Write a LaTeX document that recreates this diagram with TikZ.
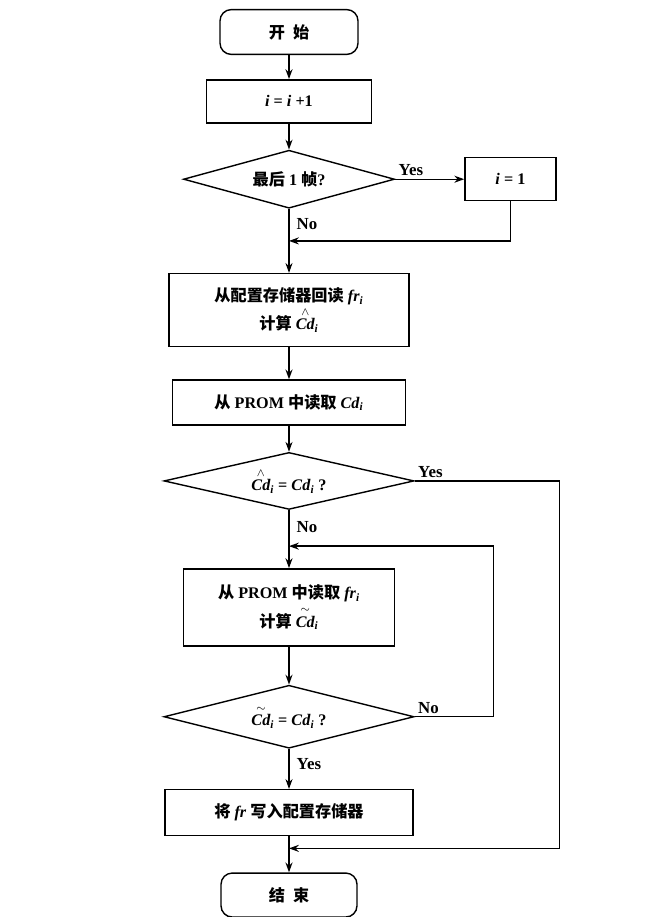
\documentclass[tikz,border=0pt]{standalone}
\usepackage{fontspec}
\usepackage{amsmath}
\setmainfont{Liberation Serif}
\newfontfamily\cjk{Noto Sans CJK SC}
\newcommand{\zh}[1]{{\cjk #1}}
\newcommand{\va}[1]{\textit{#1}}
\newcommand{\sub}[1]{\textsubscript{\textit{#1}}}
\newcommand{\hatCd}{$\overset{\scriptstyle\wedge}{\textit{Cd}}$}
\newcommand{\tilCd}{$\overset{\scriptstyle\sim}{\textit{Cd}}$}
\usetikzlibrary{shapes,arrows,arrows.meta,positioning}

\begin{document}
\begin{tikzpicture}[
    node distance=0.65cm,
    block/.style={rectangle, draw=black, line width=1pt, text centered, align=center, font=\fontsize{11.5}{20}\selectfont\bfseries, inner sep=2pt},
    dec/.style={diamond, draw=black, line width=1pt, aspect=4, inner sep=0pt, text centered, font=\fontsize{11.5}{14}\selectfont\bfseries, minimum width=6.25cm, minimum height=1.425cm},
    term/.style={rectangle, rounded corners=8pt, draw=black, line width=1pt, text centered, minimum width=3.45cm, minimum height=1.12cm, font=\fontsize{11.5}{14}\selectfont\bfseries},
    arrow/.style={->, >={Stealth[length=7pt, width=5pt]}, line width=1pt},
    arrlab/.style={font=\fontsize{12}{14}\selectfont\bfseries, inner sep=2pt},
]
    \useasboundingbox (0,0) rectangle (16.775,-22.925);

    % --- main column ---
    \node[term] (start) at (7.225,-0.8) {\zh{开\hspace{0.5em}始}};
    \node[block, below=0.6cm of start, minimum width=4.125cm, minimum height=1.075cm] (inc) {\va{i} = \va{i} +1};
    \node[dec, below=0.65cm of inc, minimum width=5.275cm, minimum height=1.45cm] (last) {\zh{最后} 1 \zh{帧}?};
    \node[block, right=1.725cm of last, minimum width=2.275cm, minimum height=1.075cm] (reset) {\va{i} = 1};

    \node[block, below=1.6cm of last, minimum width=6cm, minimum height=1.825cm] (rdbk)
        {\zh{从配置存储器回读} \va{fr}\sub{i}\\\zh{计算} \hatCd\sub{i}};
    \node[block, below=0.8cm of rdbk, minimum width=5.825cm, minimum height=1.125cm] (rdcd)
        {\zh{从} PROM \zh{中读取} \va{Cd}\sub{i}};
    \node[dec, below=0.65cm of rdcd] (cmp1) {\hatCd\sub{i} = \va{Cd}\sub{i} ?};

    \node[block, below=1.45cm of cmp1, minimum width=5.275cm, minimum height=1.925cm] (rdfr)
        {\zh{从} PROM \zh{中读取} \va{fr}\sub{i}\\\zh{计算} \tilCd\sub{i}};
    \node[dec, below=0.95cm of rdfr, minimum height=1.575cm] (cmp2) {\tilCd\sub{i} = \va{Cd}\sub{i} ?};

    \node[block, below=1.0cm of cmp2, minimum width=6.2cm, minimum height=1.15cm] (wrt)
        {\zh{将} \va{fr} \zh{写入配置存储器}};
    \node[term, below=0.9cm of wrt, minimum width=3.4cm, minimum height=1.1cm] (stop) {\zh{结\hspace{0.5em}束}};

    % --- join points on the main line ---
    \coordinate[below=0.8cm of last.south] (j1);
    \coordinate[above=0.55cm of rdfr.north] (j2);
    \coordinate[below=0.3cm of wrt.south] (j3);

    % --- Arrows ---
    \draw[arrow] (start) -- (inc);
    \draw[arrow] (inc) -- (last);
    \draw[arrow] (last) -- (reset) node[arrlab, pos=0, above right] {Yes};
    \draw[arrow] (reset.south) |- (j1);
    \draw[arrow] (last) -- (rdbk) node[arrlab, pos=0.23, right, xshift=3pt] {No};
    \draw[arrow] (rdbk) -- (rdcd);
    \draw[arrow] (rdcd) -- (cmp1);
    \draw[arrow] (cmp1) -- (rdfr) node[arrlab, pos=0.3, right, xshift=3pt] {No};
    \draw[arrow] (rdfr) -- (cmp2);
    \draw[arrow] (cmp2) -- (wrt) node[arrlab, pos=0.37, right, xshift=3pt] {Yes};
    \draw[arrow] (wrt) -- (stop);

    % loops on the right
    \draw[arrow] (cmp1.east) node[arrlab, above right] {Yes} -- ++(3.625,0) |- (j3);
    \draw[arrow] (cmp2.east) node[arrlab, above right] {No} -- ++(1.975,0) |- (j2);

\end{tikzpicture}
\end{document}
